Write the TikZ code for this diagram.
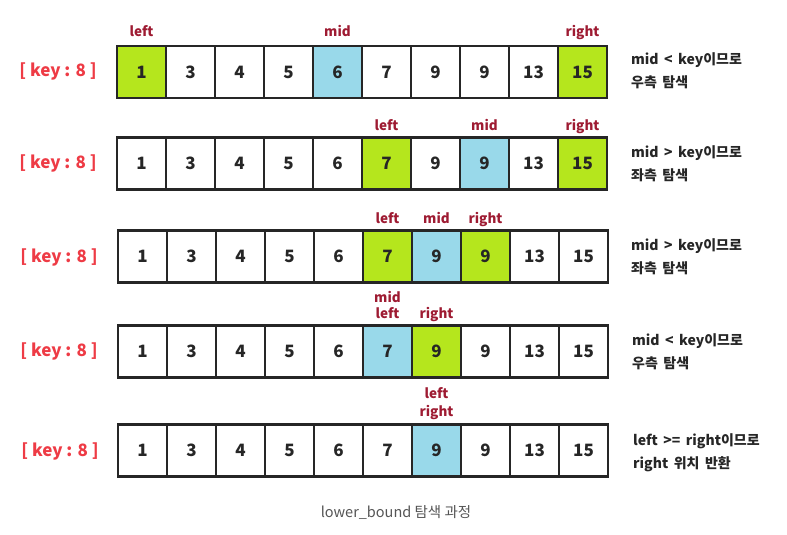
\documentclass[tikz,border=0pt]{standalone}
\usepackage{fontspec}
\setmainfont{Noto Sans CJK KR}
\newfontfamily\kr{Noto Sans CJK KR}
\definecolor{lime}{HTML}{B5E61D}
\definecolor{sky}{HTML}{99D9EA}
\definecolor{labred}{HTML}{9E1B32}
\definecolor{keyred}{HTML}{EE3B45}
\definecolor{capgray}{HTML}{555555}
\newcommand\notefont{\kr\bfseries\fontsize{14}{14}\selectfont\spaceskip=5.5pt\relax}
\tikzset{
  cell/.style={draw=black!85, line width=2.2pt, minimum width=49pt, minimum height=52pt, inner sep=0pt, font=\kr\bfseries\fontsize{17}{17}\selectfont, text=black!85},
  ptr/.style={anchor=base, inner sep=0pt, font=\kr\bfseries\fontsize{13.5}{14}\selectfont, text=labred},
  keylab/.style={inner sep=0pt, font=\kr\bfseries\fontsize{17}{17}\selectfont, text=keyred},
  note/.style={anchor=base west, inner sep=0pt, font=\notefont, text=black!85},
  captext/.style={anchor=base, inner sep=0pt, font=\kr\fontsize{14.5}{15}\selectfont, text=capgray}
}
\begin{document}
\begin{tikzpicture}[x=1pt,y=-1pt]
\useasboundingbox (0,0) rectangle (787,535);
% row 1
\foreach \v/\f [count=\i] in {1/lime,3/white,4/white,5/white,6/sky,7/white,9/white,9/white,13/white,15/lime}
  \node[cell,fill=\f] (a\i) at ({117+49*(\i-0.5)},72) {\v};
% row 2
\foreach \v/\f [count=\i] in {1/white,3/white,4/white,5/white,6/white,7/lime,9/white,9/sky,13/white,15/lime}
  \node[cell,fill=\f] (b\i) at ({117+49*(\i-0.5)},163.5) {\v};
% row 3
\foreach \v/\f [count=\i] in {1/white,3/white,4/white,5/white,6/white,7/lime,9/sky,9/lime,13/white,15/white}
  \node[cell,fill=\f] (c\i) at ({118+49*(\i-0.5)},256.5) {\v};
% row 4
\foreach \v/\f [count=\i] in {1/white,3/white,4/white,5/white,6/white,7/sky,9/lime,9/white,13/white,15/white}
  \node[cell,fill=\f] (d\i) at ({118+49*(\i-0.5)},351.5) {\v};
% row 5
\foreach \v/\f [count=\i] in {1/white,3/white,4/white,5/white,6/white,7/white,9/sky,9/white,13/white,15/white}
  \node[cell,fill=\f] (e\i) at ({118+49*(\i-0.5)},450.5) {\v};

% key labels
\node[keylab] (ka) at (58,71) {[ key : 8 ]};
\node[keylab] (kb) at (58,163) {[ key : 8 ]};
\node[keylab] (kc) at (59,257) {[ key : 8 ]};
\node[keylab] (kd) at (59,351) {[ key : 8 ]};
\node[keylab] (ke) at (60,451) {[ key : 8 ]};

% pointer labels
\node[ptr] (pa1) at (a1.center |- 0,36.5) {left};
\node[ptr] (pa2) at (a5.center |- 0,36.5) {mid};
\node[ptr] (pa3) at (a10.center |- 0,36.5) {right};
\node[ptr] (pb1) at (b6.center |- 0,130) {left};
\node[ptr] (pb2) at (b8.center |- 0,130) {mid};
\node[ptr] (pb3) at (b10.center |- 0,130) {right};
\node[ptr] (pc1) at (c6.center |- 0,223) {left};
\node[ptr] (pc2) at (c7.center |- 0,223) {mid};
\node[ptr] (pc3) at (c8.center |- 0,223) {right};
\node[ptr] (pd1) at (d6.center |- 0,302) {mid};
\node[ptr] (pd2) at (d6.center |- 0,318) {left};
\node[ptr] (pd3) at (d7.center |- 0,318) {right};
\node[ptr] (pe1) at (e7.center |- 0,398) {left};
\node[ptr] (pe2) at (e7.center |- 0,416.5) {right};

% notes
\node[note] (na1) at (631,65) {mid < key이므로};
\node[note] (na2) at (631,88) {우측 탐색};
\node[note] (nb1) at (631,157) {mid > key이므로};
\node[note] (nb2) at (631,180) {좌측 탐색};
\node[note] (nc1) at (631,250) {mid > key이므로};
\node[note] (nc2) at (631,273) {좌측 탐색};
\node[note] (nd1) at (632,345) {mid < key이므로};
\node[note] (nd2) at (632,368) {우측 탐색};
\node[note] (ne1) at (633,445) {left >= right이므로};
\node[note] (ne2) at (633,468) {right 위치 반환};

% caption
\node[captext] (capt) at (396,517) {lower\_bound 탐색 과정};
\end{tikzpicture}
\end{document}
